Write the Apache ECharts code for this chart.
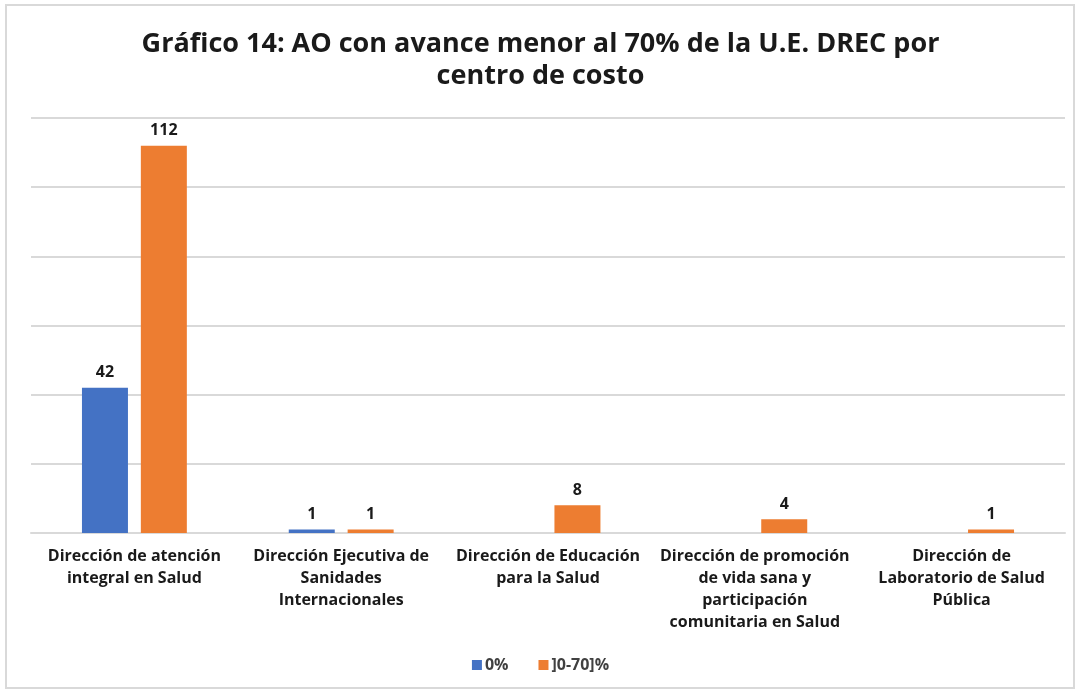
<!DOCTYPE html>
<html>
<head>
<meta charset="utf-8">
<script src="https://cdn.jsdelivr.net/npm/echarts@6/dist/echarts.min.js"></script>
<style>
  html, body { margin: 0; padding: 0; background: #fff; }
  .frame {
    position: absolute; left: 5px; top: 4px;
    width: 1070px; height: 685px;
    border: 2px solid #d9d9d9; box-sizing: border-box;
  }
  #chart { position: absolute; left: 0; top: 0; width: 1081px; height: 693px; }
</style>
</head>
<body>
<div class="frame"></div>
<div id="chart"></div>
<script>
const categories = [
  'Dirección de atención\nintegral en Salud',
  'Dirección Ejecutiva de\nSanidades\nInternacionales',
  'Dirección de Educación\npara la Salud',
  'Dirección de promoción\nde vida sana y\nparticipación\ncomunitaria en Salud',
  'Dirección de\nLaboratorio de Salud\nPública'
];
const seriesNames = ['0%', ']0-70]%'];
const zeroPct = [42, 1, null, null, null];
const upTo70 = [112, 1, 8, 4, 1];

const chart = echarts.init(document.getElementById('chart'));
const font = '"Open Sans", "Noto Sans", sans-serif';

const label = {
  show: true,
  position: 'top',
  distance: 7,
  color: '#1a1a1a',
  fontWeight: 'bold',
  fontSize: 16,
  fontFamily: font
};

chart.setOption({
  textStyle: { fontFamily: font },
  title: {
    text: 'Gráfico 14: AO con avance menor al 70% de la U.E. DREC por\ncentro de costo',
    left: 'center',
    top: 23,
    textStyle: { fontSize: 27, fontWeight: 'bold', color: '#1a1a1a', lineHeight: 32, fontFamily: font }
  },
  legend: {
    bottom: 15,
    left: 'center',
    itemWidth: 10,
    itemHeight: 10,
    itemGap: 30,
    icon: 'rect',
    textStyle: { fontSize: 16, fontWeight: 'bold', color: '#404040', padding: [0, 0, 0, -2], fontFamily: font },
    data: seriesNames
  },
  grid: { left: 31, right: 16, top: 118, bottom: 160 },
  xAxis: {
    type: 'category',
    data: categories,
    axisTick: { show: false },
    axisLine: { lineStyle: { color: '#d9d9d9', width: 2 } },
    axisLabel: {
      color: '#1a1a1a', fontWeight: 'bold', fontSize: 16, lineHeight: 22,
      margin: 12, interval: 0, fontFamily: font
    }
  },
  yAxis: {
    type: 'value',
    min: 0,
    max: 120,
    interval: 20,
    axisLabel: { show: false },
    axisLine: { show: false },
    axisTick: { show: false },
    splitLine: { lineStyle: { color: '#d9d9d9', width: 2 } }
  },
  series: [
    {
      name: seriesNames[0],
      type: 'bar',
      data: zeroPct,
      barWidth: 46,
      barGap: '28%',
      itemStyle: { color: '#4472C4' },
      label
    },
    {
      name: seriesNames[1],
      type: 'bar',
      data: upTo70,
      barWidth: 46,
      barGap: '28%',
      itemStyle: { color: '#ED7D31' },
      label
    }
  ]
});
</script>
</body>
</html>
